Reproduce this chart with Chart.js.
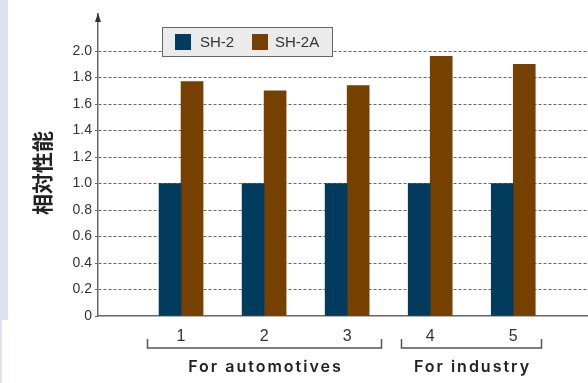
<!DOCTYPE html>
<html>
<head>
<meta charset="utf-8">
<script src="https://cdn.jsdelivr.net/npm/chart.js@4/dist/chart.umd.min.js"></script>
<style>
  html, body { margin: 0; padding: 0; background: #fff; }
  canvas { display: block; }
</style>
</head>
<body>
<canvas id="c" width="588" height="383"></canvas>
<script>
// Product numbers along the x axis and their labels
const categories = [1, 2, 3, 4, 5];
const categoryLabels = ['1', '2', '3', '4', '5'];

// Series
const seriesNames = ['SH-2', 'SH-2A'];
const sh2Values = [1.0, 1.0, 1.0, 1.0, 1.0];
const sh2aValues = [1.77, 1.70, 1.74, 1.96, 1.90];

// Y axis ticks and title
const yTickValues = [0, 0.2, 0.4, 0.6, 0.8, 1.0, 1.2, 1.4, 1.6, 1.8, 2.0];
const yAxisTitle = '相対性能';

// Groups of products shown under the x axis
const groupNames = ['For automotives', 'For industry'];
const groupMembers = [[1, 3], [4, 5]];

const COLORS = ['#023b5d', '#764100'];
const TEXT = '#333';
const LINE = '#666';
const LATIN = '"Liberation Sans", Arial, sans-serif';

// Background strip, axis arrow, rotated title, group brackets and legend box
const decor = {
  id: 'decor',
  beforeDraw(chart) {
    const ctx = chart.ctx;
    ctx.save();
    ctx.fillStyle = '#dbe4ec';
    ctx.fillRect(0, 0, 8, 320);
    ctx.fillRect(0, 320, 2, 63);
    ctx.restore();
  },
  afterDraw(chart) {
    const { ctx, chartArea, scales } = chart;
    const xs = scales.x;

    // arrow head on the y axis
    ctx.save();
    const ax = chartArea.left;
    ctx.fillStyle = '#333';
    ctx.beginPath();
    ctx.moveTo(ax, chartArea.top - 1);
    ctx.lineTo(ax - 3, chartArea.top + 8);
    ctx.lineTo(ax + 3, chartArea.top + 8);
    ctx.closePath();
    ctx.fill();
    ctx.restore();

    // rotated y title
    ctx.save();
    ctx.translate(42, 173);
    ctx.rotate(-Math.PI / 2);
    ctx.font = 'bold 21px "Noto Sans CJK JP"';
    ctx.fillStyle = '#222';
    ctx.textAlign = 'center';
    ctx.textBaseline = 'middle';
    ctx.fillText(yAxisTitle, 0, 0);
    ctx.restore();

    // group brackets with their names
    const reach = [[0.41, 0.41], [0.35, 0.34]];
    const by = chartArea.bottom + 32;
    ctx.save();
    ctx.strokeStyle = '#555';
    ctx.lineWidth = 1.5;
    groupMembers.forEach((g, i) => {
      const x1 = Math.round(xs.getPixelForValue(g[0] - reach[i][0])) + 0.5;
      const x2 = Math.round(xs.getPixelForValue(g[1] + reach[i][1])) + 0.5;
      ctx.beginPath();
      ctx.moveTo(x1, by - 9);
      ctx.lineTo(x1, by);
      ctx.lineTo(x2, by);
      ctx.lineTo(x2, by - 9);
      ctx.stroke();
      ctx.fillStyle = '#222';
      ctx.font = '600 16px Inter, "Noto Sans", sans-serif';
      ctx.letterSpacing = '2px';
      ctx.textAlign = 'center';
      ctx.textBaseline = 'middle';
      ctx.fillText(groupNames[i], (x1 + x2) / 2 + 1, chartArea.bottom + 51);
    });
    ctx.restore();

    // legend box
    ctx.save();
    ctx.fillStyle = '#ebebeb';
    ctx.fillRect(162, 27, 171, 30);
    ctx.strokeStyle = LINE;
    ctx.lineWidth = 1;
    ctx.strokeRect(162.5, 27.5, 170, 29);
    const items = [[175, 200], [252, 275]];
    chart.data.datasets.forEach((ds, i) => {
      ctx.fillStyle = ds.backgroundColor;
      ctx.fillRect(items[i][0], 34, 16, 16);
      ctx.fillStyle = TEXT;
      ctx.font = '15px ' + LATIN;
      ctx.textAlign = 'left';
      ctx.textBaseline = 'middle';
      ctx.fillText(ds.label, items[i][1], 43);
    });
    ctx.restore();
  }
};

new Chart(document.getElementById('c'), {
  type: 'bar',
  data: {
    datasets: [
      {
        label: seriesNames[0],
        data: categories.map((c, i) => ({ x: c, y: sh2Values[i] })),
        backgroundColor: COLORS[0]
      },
      {
        label: seriesNames[1],
        data: categories.map((c, i) => ({ x: c, y: sh2aValues[i] })),
        backgroundColor: COLORS[1]
      }
    ]
  },
  options: {
    responsive: false,
    animation: false,
    devicePixelRatio: 1,
    layout: { padding: { top: 14, left: 0, right: 0, bottom: 0 } },
    datasets: { bar: { barThickness: 22, borderWidth: 0 } },
    plugins: { legend: { display: false }, tooltip: { enabled: false } },
    scales: {
      x: {
        type: 'linear',
        offset: false,
        min: 0,
        max: 5.9,
        afterBuildTicks: s => { s.ticks = categories.map(v => ({ value: v })); },
        afterFit: s => { s.height = 67; },
        grid: { display: false, drawTicks: false, offset: false },
        border: { display: true, color: LINE, width: 1.5 },
        ticks: {
          autoSkip: false,
          maxRotation: 0,
          padding: 11,
          color: TEXT,
          font: { size: 16, family: LATIN },
          callback: v => categoryLabels[categories.indexOf(v)] ?? ''
        }
      },
      y: {
        min: 0,
        max: 2.28,
        afterBuildTicks: s => { s.ticks = yTickValues.map(v => ({ value: v })); },
        afterFit: s => { s.width = 98; },
        grid: {
          color: c => (c.tick && c.tick.value === 0) ? 'rgba(0,0,0,0)' : LINE,
          lineWidth: 1,
          tickLength: 3,
          tickColor: LINE,
          tickBorderDash: []
        },
        border: { display: true, color: LINE, width: 1.5, dash: [3, 2] },
        ticks: {
          padding: 3,
          color: TEXT,
          font: { size: 14, family: LATIN },
          callback: v => v === 0 ? '0' : v.toFixed(1)
        }
      }
    }
  },
  plugins: [decor]
});
</script>
</body>
</html>
